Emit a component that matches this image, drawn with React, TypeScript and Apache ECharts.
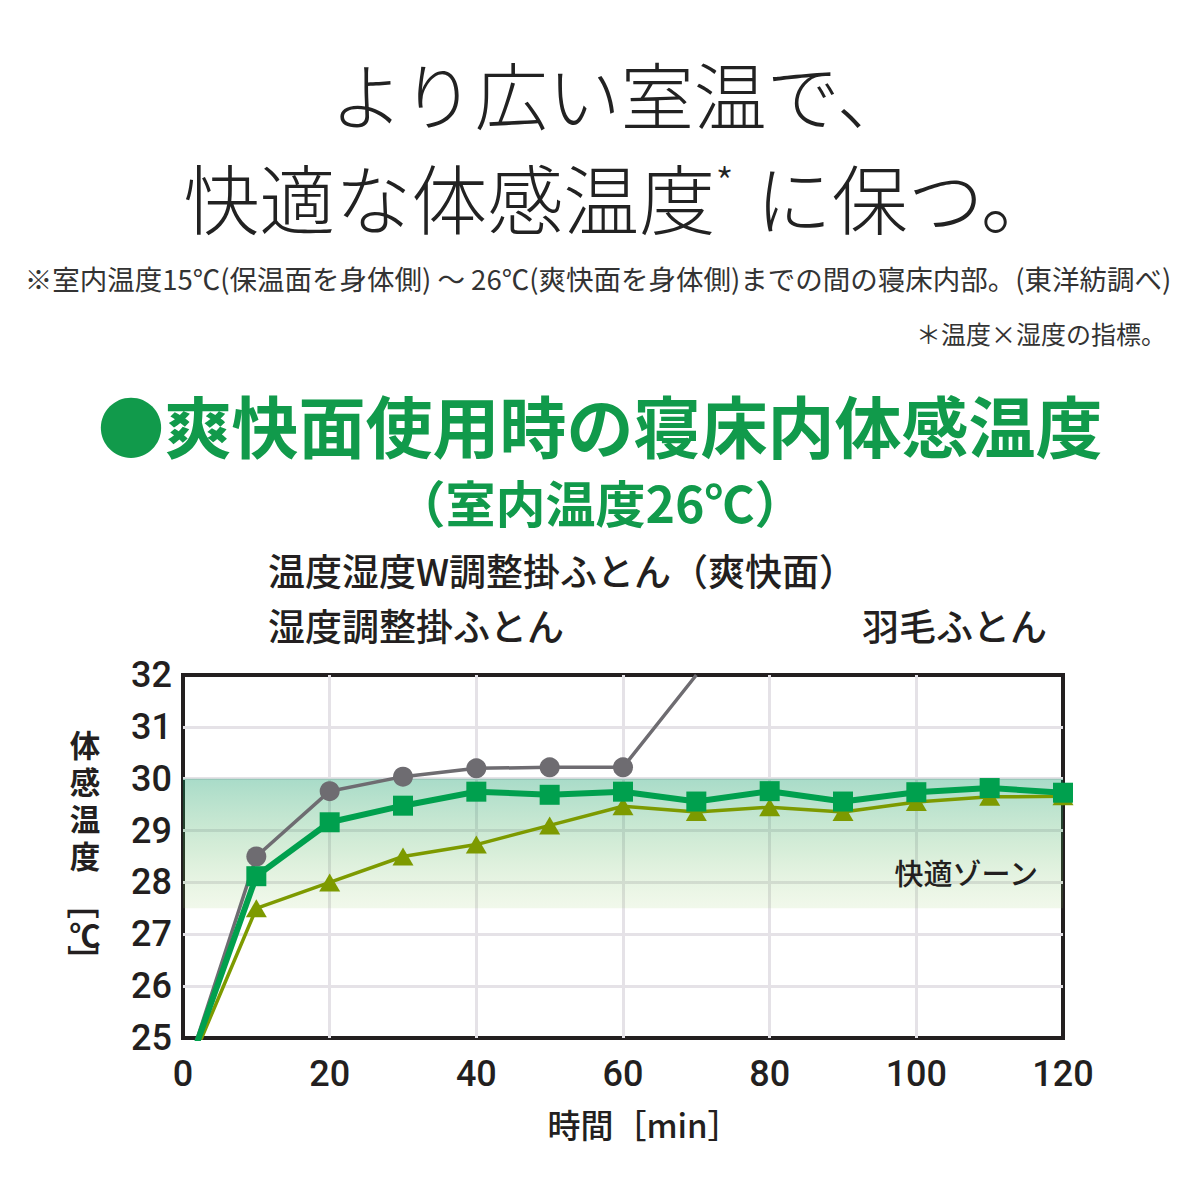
import React, { useEffect, useRef } from 'react';
import * as echarts from 'echarts';

// 経過時間 [min]
const times = [0, 10, 20, 30, 40, 50, 60, 70, 80, 90, 100, 110, 120];

// 温度湿度W調整掛ふとん（爽快面）
const wFutonValues = [24.15, 28.12, 29.16, 29.48, 29.75, 29.69, 29.75, 29.56, 29.76, 29.56, 29.74, 29.82, 29.73];
// 湿度調整掛ふとん
const humidityFutonValues = [24.15, 27.5, 28.0, 28.5, 28.73, 29.1, 29.47, 29.36, 29.45, 29.36, 29.55, 29.65, 29.66];
// 羽毛ふとん (70分で上限を超える)
const downFutonValues = [24.15, 28.5, 29.76, 30.04, 30.2, 30.22, 30.22, 32.0];

const comfortZone = [27.5, 30];
const yRange = [25, 32];
const xRange = [0, 120];

const legendNames = ['温度湿度W調整掛ふとん（爽快面）', '湿度調整掛ふとん', '羽毛ふとん'];
const yNameChars = ['体', '感', '温', '度'];

const JP = '"Noto Sans CJK JP", "Noto Sans", sans-serif';
const NUM = 'Roboto, "Noto Sans", sans-serif';

const GREEN = '#00a04e';
const OLIVE = '#7d9a00';
const GRAY = '#6e6c71';
const HEAD_GREEN = '#119a4b';
const INK = '#231f20';

const App = () => {
    const chartRef = useRef<HTMLDivElement>(null);

    useEffect(() => {
        if (!chartRef.current) return;
        const chart = echarts.init(chartRef.current, null, { renderer: 'svg' });

        const toPairs = (vals: number[]) => vals.map((v, i) => [times[i], v]);
        const downData = downFutonValues.map((v, i) =>
            i === downFutonValues.length - 1
                ? { value: [times[i], v], symbol: 'none' }
                : { value: [times[i], v] }
        );

        const text = (x: number, y: number, t: string, size: number, extra: any = {}, rotation = 0) => ({
            type: 'text',
            x,
            y,
            z: 100,
            rotation,
            silent: true,
            style: {
                text: t,
                fontSize: size,
                fontFamily: JP,
                fill: INK,
                align: 'center',
                verticalAlign: 'middle',
                ...extra
            }
        });

        const option = {
            animation: false,
            grid: {
                left: 183,
                top: 675,
                width: 880,
                height: 363,
                show: true,
                borderColor: INK,
                borderWidth: 4,
                backgroundColor: 'transparent'
            },
            xAxis: {
                type: 'value',
                min: xRange[0],
                max: xRange[1],
                interval: 20,
                axisLine: { show: false },
                axisTick: { show: false },
                splitLine: { show: true, showMinLine: false, showMaxLine: false, lineStyle: { color: '#e5e2e7', width: 3 } },
                axisLabel: { fontSize: 36, fontFamily: NUM, fontWeight: 500, color: INK, margin: 18 }
            },
            yAxis: {
                type: 'value',
                min: yRange[0],
                max: yRange[1],
                interval: 1,
                axisLine: { show: false },
                axisTick: { show: false },
                splitLine: { show: true, showMinLine: false, showMaxLine: false, lineStyle: { color: '#e5e2e7', width: 3 } },
                axisLabel: { fontSize: 36, fontFamily: NUM, fontWeight: 500, color: INK, margin: 11 }
            },
            series: [
                {
                    name: 'zone',
                    type: 'line',
                    data: [],
                    z: 1,
                    silent: true,
                    markArea: {
                        silent: true,
                        itemStyle: {
                            color: new echarts.graphic.LinearGradient(0, 0, 0, 1, [
                                { offset: 0, color: 'rgba(0,150,95,0.34)' },
                                { offset: 0.55, color: 'rgba(70,175,80,0.22)' },
                                { offset: 1, color: 'rgba(140,200,90,0.12)' }
                            ])
                        },
                        data: [[
                            { xAxis: xRange[0], yAxis: comfortZone[0] },
                            { xAxis: xRange[1], yAxis: comfortZone[1] }
                        ]]
                    }
                },
                {
                    name: legendNames[1],
                    type: 'line',
                    z: 3,
                    data: toPairs(humidityFutonValues),
                    symbol: 'triangle',
                    symbolSize: [21, 18],
                    lineStyle: { color: OLIVE, width: 3.5 },
                    itemStyle: { color: OLIVE }
                },
                {
                    name: legendNames[2],
                    type: 'line',
                    z: 4,
                    data: downData,
                    symbol: 'circle',
                    symbolSize: 20,
                    lineStyle: { color: GRAY, width: 3.5 },
                    itemStyle: { color: GRAY }
                },
                {
                    name: legendNames[0],
                    type: 'line',
                    z: 5,
                    data: toPairs(wFutonValues),
                    symbol: 'rect',
                    symbolSize: 20,
                    lineStyle: { color: GREEN, width: 6 },
                    itemStyle: { color: GREEN }
                }
            ],
            graphic: [
                text(620, 92, 'より広い室温で、', 73, { fill: '#222', fontWeight: 300 }),
                {
                    type: 'text',
                    x: 620,
                    y: 196,
                    z: 100,
                    silent: true,
                    style: {
                        text: '{a|快適な体感温度}{s|*}{a|に保つ。}',
                        align: 'center',
                        verticalAlign: 'middle',
                        fill: '#222',
                        fontFamily: JP,
                        rich: {
                            a: { fontSize: 76, fontFamily: JP, fontWeight: 300, fill: '#222' },
                            s: { fontSize: 42, fontFamily: JP, fontWeight: 300, fill: '#222', padding: [0, 22, 32, 0] }
                        }
                    }
                },
                text(598, 278, '※室内温度15℃(保温面を身体側) ～ 26℃(爽快面を身体側)までの間の寝床内部。(東洋紡調べ)', 27.5, { fill: '#333' }),
                text(1166, 333, '＊温度×湿度の指標。', 25, { fill: '#333', align: 'right' }),
                text(600, 423, '●爽快面使用時の寝床内体感温度', 67, { fill: HEAD_GREEN, fontWeight: 'bold' }),
                text(600, 501, '（室内温度26℃）', 50, { fill: HEAD_GREEN, fontWeight: 'bold' }),
                text(268, 570, legendNames[0], 37, { align: 'left', fontWeight: 500 }),
                text(268, 625, legendNames[1], 37, { align: 'left', fontWeight: 500 }),
                text(1047, 625, legendNames[2], 37, { align: 'right', fontWeight: 500 }),
                text(1038, 872, '快適ゾーン', 29, { align: 'right', fontWeight: 500 }),
                text(644, 1124, '時間［min］', 33, { fontWeight: 500 }),
                ...yNameChars.map((c, i) => text(85, 744 + i * 37, c, 30.5, { fontWeight: 'bold' })),
                text(85, 903, '［', 32, { fontWeight: 'bold' }, -Math.PI / 2),
                text(85, 933, '℃', 31, { fontWeight: 'bold' }),
                text(85, 961, '］', 32, { fontWeight: 'bold' }, -Math.PI / 2)
            ]
        };

        chart.setOption(option as any);

        const handleResize = () => chart.resize();
        window.addEventListener('resize', handleResize);
        return () => {
            window.removeEventListener('resize', handleResize);
            chart.dispose();
        };
    }, []);

    return (
        <div
            ref={chartRef}
            style={{ position: 'absolute', left: 0, top: 0, width: '1200px', height: '1200px', background: '#fff' }}
        />
    );
};

export default App;
